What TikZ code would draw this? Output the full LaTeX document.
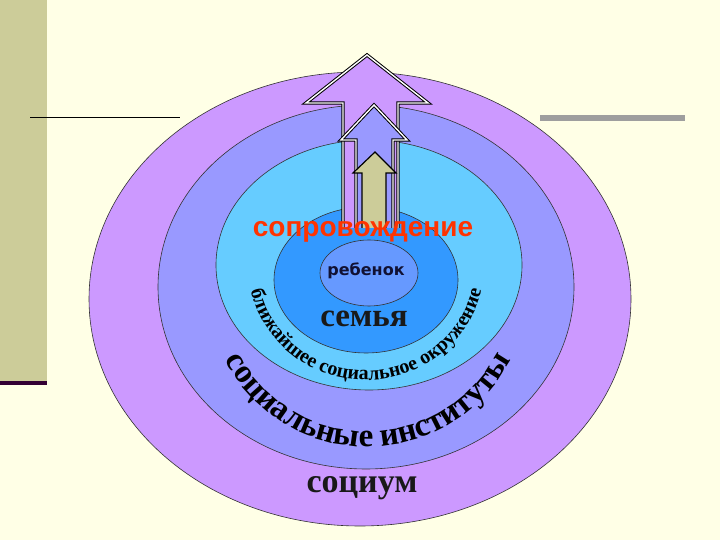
\documentclass[tikz,border=0pt]{standalone}
\usepackage{fontspec}
\setmainfont{Liberation Serif}
\newfontfamily\arialb{Liberation Sans}
\newfontfamily\dejab{DejaVu Sans}
\usetikzlibrary{decorations.text}
\definecolor{bg}{HTML}{FFFFE6}
\definecolor{olive}{HTML}{CCCC99}
\definecolor{ring1}{HTML}{CC99FF}
\definecolor{ring2}{HTML}{9999FF}
\definecolor{ring3}{HTML}{66CCFF}
\definecolor{ring4}{HTML}{3399FF}
\definecolor{ring5}{HTML}{6699FF}
\definecolor{redt}{HTML}{FF3300}
\definecolor{navy}{HTML}{111133}
\tikzset{ring/.style={draw=black!80,line width=0.6pt},
 arr/.style={draw=black,line width=1pt,double=white,double distance=1.4pt,line join=miter}}
\begin{document}
\begin{tikzpicture}[x=1pt,y=1pt]
\fill[bg] (0,0) rectangle (720,540);
\useasboundingbox (0,0) rectangle (720,540);
\fill[olive] (0,157) rectangle (47,540);
\draw[line width=4pt,color={rgb,255:red,51;green,0;blue,51}] (0,157) -- (47,157);
\draw[line width=1pt] (30,422) -- (180,422);
\draw[line width=6pt,color=black!38] (540,422) -- (685,422);
\path[ring,fill=ring1] (360,241) ellipse[x radius=271,y radius=227];
\path[ring,fill=ring2] (366,253) ellipse[x radius=208,y radius=182];
\path[ring,fill=ring3] (369,275) ellipse[x radius=153,y radius=125];
\path[ring,fill=ring4] (366,260) ellipse[x radius=92,y radius=73];
\path[ring,fill=ring5] (369,267) ellipse[x radius=49,y radius=33];
\path[arr,fill=ring1] (343,312) -- (343,437) -- (306,437) -- (367,485) -- (428,437) -- (398,437) -- (398,312);
\path[arr,fill=ring2] (356,312) -- (356,400) -- (341,400) -- (374,435) -- (407,400) -- (393,400) -- (393,312);
\path[draw=black,line width=1.2pt,fill=olive] (362,312) -- (362,367) -- (353,367) -- (375,388) -- (396,367) -- (386,367) -- (386,312);
\node[text=redt,font=\arialb\bfseries\fontsize{28}{30}\selectfont] (sopr) at (363,308) {сопровождение};
\node[text=navy,font=\dejab\bfseries\fontsize{16}{18}\selectfont] (reb) at (366,269) {ребенок};
\node[text=black!90,font=\bfseries\fontsize{33}{35}\selectfont] (sem) at (364,221) {семья};
\node[text=black!90,font=\bfseries\fontsize{34}{36}\selectfont] (soc) at (362,52) {социум};
\path[decorate,decoration={text along path,text align=center,
 text={|\bfseries\fontsize{20}{22}\selectfont|ближайшее социальное окружение}}]
 (366,274) ++(175:118 and 114) arc[start angle=175,end angle=365,x radius=118,y radius=114];
\path[decorate,decoration={text along path,text align=center,
 text={|\bfseries\fontsize{33}{35}\selectfont|социальные институты}}]
 (368,258) ++(185:162 and 165) arc[start angle=185,end angle=355,x radius=162,y radius=165];
\end{tikzpicture}
\end{document}
